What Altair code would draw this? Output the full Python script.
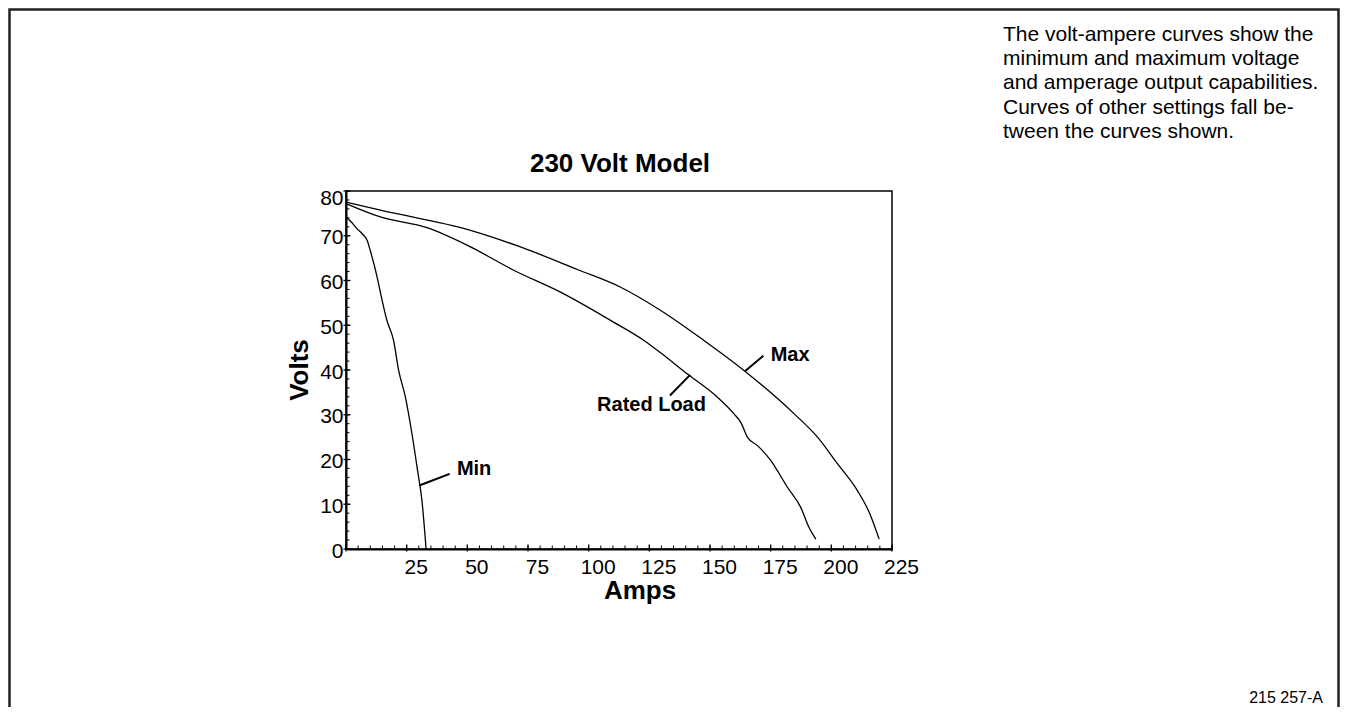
import altair as alt
import pandas as pd

# ---- data ----
min_amps = [0, 1.8, 4.5, 6.6, 8.7, 10.0, 12.8, 13.4, 16.9, 19.6, 21.7, 24.5, 27.2, 29.5, 31.3, 32.3, 33.0]
min_volts = [74.2, 73.3, 71.6, 70.5, 69.0, 66.7, 60.8, 59.3, 51.0, 46.6, 39.9, 33.9, 25.7, 17.5, 10.8, 4.8, 0.0]

max_amps = [0, 14.2, 51.3, 71.9, 95.6, 113.2, 129.7, 147.5, 164.0, 184.7, 194.3, 202.6, 210.8, 215.6, 219.7]
max_volts = [77.5, 75.7, 71.2, 67.5, 62.4, 58.5, 53.3, 46.6, 39.9, 30.2, 25.0, 19.0, 13.0, 8.2, 2.2]

rated_amps = [0, 14.2, 33.4, 49.9, 69.1, 88.4, 109.0, 122.8, 128.3, 140.7, 153.1, 159.9, 162.7, 165.4,
              169.6, 175.0, 181.9, 187.4, 190.8, 193.6]
rated_volts = [77.2, 74.2, 71.8, 67.9, 62.3, 57.4, 51.1, 46.6, 44.4, 39.1, 33.9, 30.2, 28.3, 25.0,
               23.1, 19.8, 13.8, 9.3, 4.8, 2.2]

x_tick_values = [25, 50, 75, 100, 125, 150, 175, 200, 225]
y_tick_values = [0, 10, 20, 30, 40, 50, 60, 70, 80]
x_major_ticks = [0, 25, 50, 75, 100, 125, 150, 175, 200, 225]
x_minor_ticks = list(range(0, 226, 5))
y_minor_ticks = list(range(0, 81, 2))

label_text = ["Max", "Rated Load", "Min"]
label_amps = [175.0, 125.9, 45.7]
label_volts = [43.3, 32.1, 17.9]
label_align = ["left", "center", "left"]

leader_amps = [164.4, 141.8, 30.2]
leader_volts = [39.7, 38.9, 14.2]
leader_amps2 = [172.0, 133.5, 42.7]
leader_volts2 = [43.2, 34.3, 16.8]

title_text = "230 Volt Model"
x_title = "Amps"
y_title = "Volts"
paragraph = [
    "The volt-ampere curves show the",
    "minimum and maximum voltage",
    "and amperage output capabilities.",
    "Curves of other settings fall be-",
    "tween the curves shown.",
]
footer_text = "215 257-A"

# ---- build ----
W, H = 546, 358
PAD_L, PAD_T = 338, 183
TOTAL_W, TOTAL_H = 1332, 699
FONT = "Liberation Sans"

rows = []
for name, xs_, ys_ in [("Min", min_amps, min_volts), ("Max", max_amps, max_volts),
                       ("Rated Load", rated_amps, rated_volts)]:
    for i, (a, v) in enumerate(zip(xs_, ys_)):
        rows.append({"series": name, "amps": a, "volts": v, "order": i})
curves = pd.DataFrame(rows)

xs = alt.Scale(domain=[0, 225], nice=False, zero=False)
ys = alt.Scale(domain=[0, 80], nice=False, zero=False)

x_axis = alt.Axis(
    values=x_tick_values, ticks=False, grid=False, title=None,
    domainColor="black", domainWidth=2,
    labelFont=FONT, labelFontSize=21, labelColor="black",
    labelPadding=7, labelOffset=9, labelFlush=False, labelOverlap=False)
y_axis = alt.Axis(
    values=y_tick_values, ticks=False, grid=False, title=None,
    domainColor="black", domainWidth=2,
    labelFont=FONT, labelFontSize=21, labelColor="black",
    labelPadding=3, labelFlush=False, labelOverlap=False, labelBaseline="middle",
    labelOffset={"condition": {"test": "datum.value == 80", "value": 7}, "value": 2})


def X(field):
    return alt.X(field, scale=xs, axis=x_axis)


def Y(field):
    return alt.Y(field, scale=ys, axis=y_axis)


lines = alt.Chart(curves).mark_line(color="black", strokeWidth=1.3, interpolate="monotone").encode(
    x=X("amps:Q"), y=Y("volts:Q"), detail="series:N", order="order:Q")

xmin = alt.Chart(pd.DataFrame({"amps": x_minor_ticks})).mark_rule(color="black", strokeWidth=1).encode(
    x=X("amps:Q"), y=alt.value(H - 3.5), y2=alt.value(H))
xmaj = alt.Chart(pd.DataFrame({"amps": x_major_ticks})).mark_rule(color="black", strokeWidth=1.3).encode(
    x=X("amps:Q"), y=alt.value(H - 4.5), y2=alt.value(H + 2.5))
ymin = alt.Chart(pd.DataFrame({"volts": y_minor_ticks})).mark_rule(color="black", strokeWidth=1).encode(
    y=Y("volts:Q"), x=alt.value(0), x2=alt.value(3.5))
ymaj = alt.Chart(pd.DataFrame({"volts": y_tick_values})).mark_rule(color="black", strokeWidth=1.3).encode(
    y=Y("volts:Q"), x=alt.value(-2.5), x2=alt.value(4.5))

leaders = alt.Chart(pd.DataFrame({"amps": leader_amps, "volts": leader_volts,
                                  "a2": leader_amps2, "v2": leader_volts2})).mark_rule(
    color="black", strokeWidth=2).encode(
    x=X("amps:Q"), y=Y("volts:Q"), x2="a2:Q", y2="v2:Q")

lab_df = pd.DataFrame({"t": label_text, "amps": label_amps, "volts": label_volts, "al": label_align})
labels_left = alt.Chart(lab_df).transform_filter("datum.al == 'left'").mark_text(
    align="left", baseline="middle", font=FONT, fontSize=20, fontWeight="bold", color="black").encode(
    x=X("amps:Q"), y=Y("volts:Q"), text="t:N")
labels_center = alt.Chart(lab_df).transform_filter("datum.al == 'center'").mark_text(
    align="center", baseline="middle", font=FONT, fontSize=20, fontWeight="bold", color="black").encode(
    x=X("amps:Q"), y=Y("volts:Q"), text="t:N")

one = pd.DataFrame({"k": [0]})
title = alt.Chart(one).mark_text(text=title_text, align="center", baseline="alphabetic",
                                 font=FONT, fontSize=26, fontWeight="bold", color="black").encode(
    x=alt.value(274), y=alt.value(-19))
xtitle = alt.Chart(one).mark_text(text=x_title, align="center", baseline="alphabetic",
                                  font=FONT, fontSize=26, fontWeight="bold", color="black").encode(
    x=alt.value(294), y=alt.value(408))
ytitle = alt.Chart(one).mark_text(text=y_title, align="center", baseline="middle", angle=270,
                                  font=FONT, fontSize=26, fontWeight="bold", color="black").encode(
    x=alt.value(-46), y=alt.value(H / 2))
para = alt.Chart(one).mark_text(text=paragraph, align="left", baseline="alphabetic", lineHeight=24.2,
                                font=FONT, fontSize=21, color="black").encode(
    x=alt.value(657), y=alt.value(-150))
footer = alt.Chart(one).mark_text(text=footer_text, align="right", baseline="alphabetic",
                                  font=FONT, fontSize=16, color="black").encode(
    x=alt.value(977), y=alt.value(512))
border = alt.Chart(one).mark_rect(fill=None, stroke="#222", strokeWidth=2.5).encode(
    x=alt.value(-PAD_L + 1.5), x2=alt.value(TOTAL_W - PAD_L - 1.5),
    y=alt.value(-PAD_T + 1.5), y2=alt.value(TOTAL_H - PAD_T + 20))

chart = alt.layer(
    lines, xmin, xmaj, ymin, ymaj, leaders, labels_left, labels_center,
    title, xtitle, ytitle, para, footer, border
).properties(
    width=W, height=H,
    padding={"left": PAD_L, "top": PAD_T, "right": TOTAL_W - PAD_L - W, "bottom": TOTAL_H - PAD_T - H},
    autosize=alt.AutoSizeParams(type="none"),
).configure(font=FONT).configure_view(stroke="black", strokeWidth=1.5)

chart.save("out.html", embed_options={"renderer": "svg", "actions": False})
